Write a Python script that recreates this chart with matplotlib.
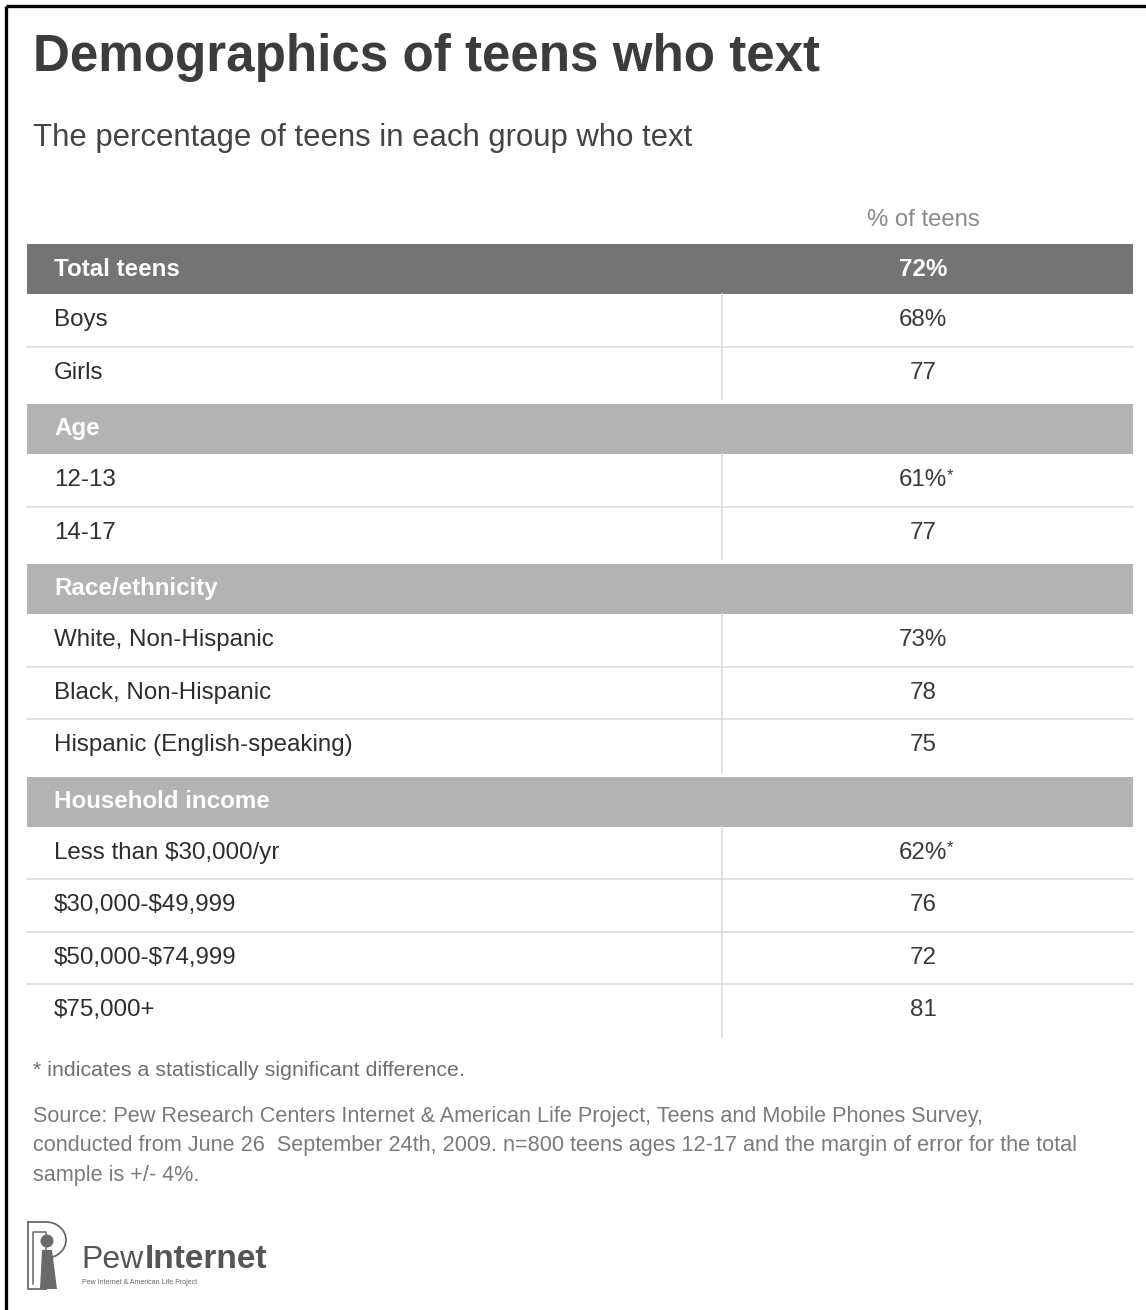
import matplotlib
matplotlib.use("Agg")
import matplotlib.pyplot as plt
from matplotlib.patches import Rectangle, Circle, Polygon, Arc

# data
groups = ["Total teens", "Age", "Race/ethnicity", "Household income"]
group_rows = [
    ["Boys", "Girls"],
    ["12-13", "14-17"],
    ["White, Non-Hispanic", "Black, Non-Hispanic", "Hispanic (English-speaking)"],
    ["Less than $30,000/yr", "$30,000-$49,999", "$50,000-$74,999", "$75,000+"],
]
group_vals = [
    [68, 77],
    [61, 77],
    [73, 78, 75],
    [62, 76, 72, 81],
]
group_sig = [
    [False, False],
    [True, False],
    [False, False, False],
    [True, False, False, False],
]
total_value = 72

title = "Demographics of teens who text"
subtitle = "The percentage of teens in each group who text"
col_header = "% of teens"
footnote = "* indicates a statistically significant difference."
source = ("Source: Pew Research Centers Internet & American Life Project, Teens and Mobile Phones Survey,\n"
          "conducted from June 26  September 24th, 2009. n=800 teens ages 12-17 and the margin of error for the total\n"
          "sample is +/- 4%.")

W, H = 1146, 1310
plt.rcParams['font.family'] = ['Liberation Sans', 'DejaVu Sans']
plt.rcParams['text.parse_math'] = False
fig = plt.figure(figsize=(W / 100, H / 100), dpi=100)
ax = fig.add_axes([0, 0, 1, 1])
ax.set_xlim(0, W)
ax.set_ylim(H, 0)
ax.axis('off')

# frame (top + left only)
ax.plot([6, W], [6, 6], color='black', lw=2.4, solid_capstyle='butt')
ax.plot([6, 6], [6, H], color='black', lw=2.4, solid_capstyle='butt')

ax.text(33, 58, title, fontsize=36.8, fontweight='bold', color='#3c3c3c', va='center')
ax.text(33, 138, subtitle, fontsize=22.4, color='#444444', va='center')
ax.text(923, 220, col_header, fontsize=17.2, color='#8a8a8a', va='center', ha='center')

x0, x1, xdiv, xval, xlab = 27, 1133, 722, 923, 54
hdr_h, row_h, gap = 50, 52.5, 5
label_fs = 17.4

def draw_value(y, v, pct, sig):
    t = ax.text(xval, y, f"{v}%" if pct else f"{v}", fontsize=label_fs,
                color='#3a3a3a', ha='center', va='center')
    if sig:
        ax.annotate("*", xy=(1, 0.72), xycoords=t, fontsize=12, color='#3a3a3a',
                    ha='left', va='center')

y = 244
for gi, g in enumerate(groups):
    if gi > 0:
        y += gap
    dark = gi == 0
    ax.add_patch(Rectangle((x0, y), x1 - x0, hdr_h,
                           facecolor='#747474' if dark else '#b3b3b3', edgecolor='none'))
    ax.text(xlab, y + hdr_h / 2, g, fontsize=label_fs, fontweight='bold',
            color='white', va='center')
    if dark:
        ax.text(xval, y + hdr_h / 2, f"{total_value}%", fontsize=label_fs,
                fontweight='bold', color='white', va='center', ha='center')
    y += hdr_h
    ytop = y
    for ri, (lab, v, s) in enumerate(zip(group_rows[gi], group_vals[gi], group_sig[gi])):
        if ri > 0:
            ax.plot([x0, x1], [y, y], color='#dcdcdc', lw=1.2)
        ax.text(xlab, y + row_h / 2, lab, fontsize=label_fs, color='#2e2e2e', va='center')
        draw_value(y + row_h / 2, v, ri == 0, s)
        y += row_h
    ax.plot([xdiv, xdiv], [ytop, y], color='#dcdcdc', lw=1.2)

ax.text(33, 1070, footnote, fontsize=15.4, color='#6e6e6e', va='center')
ax.text(33, 1106, source, fontsize=15.6, color='#7a7a7a', va='top', linespacing=1.52)

# logo
lc = '#6a6a6a'
ax.plot([28, 28, 46], [1222, 1289, 1289], color=lc, lw=1.3)
ax.plot([28, 46], [1222, 1222], color=lc, lw=1.3)
ax.add_patch(Arc((46, 1240), 40, 36, theta1=-90, theta2=90, color=lc, lw=1.3))
ax.plot([33, 33, 46, 46], [1284, 1232, 1232, 1289], color=lc, lw=1.1)
ax.add_patch(Circle((47, 1241), 6.5, facecolor=lc, edgecolor='none'))
ax.add_patch(Polygon([[42, 1250], [52, 1250], [57, 1289], [40, 1289]],
                     closed=True, facecolor=lc, edgecolor='none'))
ax.text(81, 1268, "Pew", fontsize=23, color='#555555', va='baseline')
ax.text(145, 1268, "Internet", fontsize=24, fontweight='bold', color='#555555',
        va='baseline')
ax.text(82, 1282, "Pew Internet & American Life Project", fontsize=5, color='#666666',
        va='center')

fig.savefig("out.png", dpi=100)
